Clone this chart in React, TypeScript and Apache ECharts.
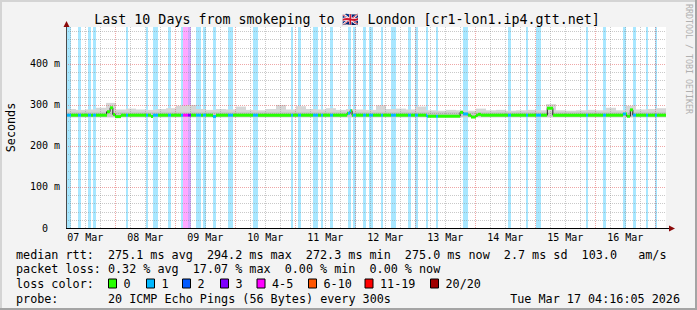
import React, { useEffect, useRef } from "react";
import * as echarts from "echarts";

// ---------- data (time in hours since 07 Mar 00:00) ----------
const START_H = 4 + 16 / 60 + 5 / 3600; // 07 Mar 04:16:05
const SPAN_H = 240; // last 10 days
const END_H = START_H + SPAN_H;
const Y_MAX = 490; // ms

const dayLabels = ["07 Mar", "08 Mar", "09 Mar", "10 Mar", "11 Mar", "12 Mar", "13 Mar", "14 Mar", "15 Mar", "16 Mar"];
const yTickValues = [0, 100, 200, 300, 400];

const lossLabels = ["0", "1", "2", "3", "4-5", "6-10", "11-19", "20/20"];
const lossColors = ["#26ff00", "#00b8ff", "#0059ff", "#7e00ff", "#ff00ff", "#ff5500", "#ff0000", "#a00000"];

// loss periods: start hour, end hour, loss class (index into lossLabels)
const bandStart = [4.27, 8.95, 12.95, 14.95, 28.27, 36.15, 39.07, 44.95, 50.27, 51.19, 53.19, 56.15, 59.19, 62.95, 68.95, 78.95, 94.27, 96.95, 102.95, 106.27, 109.87, 116.95, 118.95, 122.95, 125.47, 130.27, 134.27, 140.95, 143.87, 148.15, 152.15, 162.95, 180.95, 188.15, 192.27, 212.27, 218.95, 226.95, 230.95, 236.27, 239.87];
const bandEnd = [6.07, 10.27, 14.27, 16.27, 29.19, 37.19, 41.19, 46.27, 51.19, 53.19, 54.15, 58.15, 60.15, 64.27, 71.19, 80.95, 95.19, 98.15, 104.95, 107.19, 110.95, 118.27, 120.15, 124.27, 126.87, 131.19, 136.27, 142.27, 144.95, 149.19, 153.19, 164.95, 182.27, 189.07, 194.27, 213.19, 220.27, 228.27, 232.27, 237.07, 240.55];
const bandLoss = [1, 1, 1, 1, 1, 1, 1, 1, 1, 4, 3, 1, 1, 1, 1, 1, 1, 1, 1, 1, 1, 1, 1, 1, 1, 1, 1, 1, 1, 1, 1, 1, 1, 1, 1, 1, 1, 1, 1, 1, 1];

// median rtt (step changes)
const medianHours = [4.27, 20.5, 21.9, 23.0, 24.0, 26.2, 38.3, 39.0, 63.0, 64.3, 116.7, 117.9, 118.7, 148.5, 161.9, 163.2, 165.0, 166.3, 168.3, 169.0, 170.3, 196.8, 199.0, 227.1, 228.5, 230.0, 231.0];
const medianMs = [275, 283.5, 293, 276.5, 271.5, 275, 272, 275, 272, 275, 279.5, 286, 275, 272.5, 282, 278, 275, 270.5, 275, 277, 275, 292, 275, 278, 272.5, 288, 275];

// smoke (max ping) per 4-hour block
const SMOKE_BLOCK_H = 4;
const SMOKE_BASE = 270;
const SMOKE_INNER = 283;
const smokeTop = [290, 288, 289, 293, 305, 289, 291, 289, 288, 290, 292, 298, 300, 290, 288, 290, 289, 296, 288, 287, 290, 300, 289, 297, 290, 289, 292, 288, 290, 289, 288, 299, 290, 291, 289, 296, 287, 286, 288, 287, 286, 291, 287, 288, 286, 287, 288, 287, 302, 287, 286, 287, 288, 287, 293, 287, 298, 289, 290, 292];

// legend texts
const titleText = "Last 10 Days from smokeping to 🇬🇧 London [cr1-lon1.ip4.gtt.net]";
const rttLabel = "median rtt:";
const rttStats = ["275.1 ms avg", "294.2 ms max", "272.3 ms min", "275.0 ms now", "2.7 ms sd", "103.0", "am/s"];
const plLabel = "packet loss:";
const plStats = ["0.32 % avg", "17.07 % max", "0.00 % min", "0.00 % now"];
const lcLabel = "loss color:";
const probeLabel = "probe:";
const probeText = "20 ICMP Echo Pings (56 Bytes) every 300s";
const dateText = "Tue Mar 17 04:16:05 2026";
const yName = "Seconds";
const vendorText = "RRDTOOL / TOBI OETIKER";

// ---------- layout / style ----------
const FONT = '"DejaVu Sans Mono", monospace';
const LEG_FONT = `11.75px ${FONT}`;
const COL_W = 7.07;
const LEG_X = 16;
const rowY = [254.5, 269, 283.5, 298.5];
const rttCols = [13, 27, 41, 55, 69, 80, 88];
const plCols = [13, 25, 38, 50];
const lossBoxX = [108, 146, 182, 220, 256.5, 308, 364.5, 430];
const GRID = { left: 66, top: 27, width: 600, height: 201 };
const MINOR = "rgba(135,135,135,0.45)";
const MAJOR = "rgba(220,60,60,0.45)";

function alphaColor(hex: string, a: number) {
  const r = parseInt(hex.slice(1, 3), 16), g = parseInt(hex.slice(3, 5), 16), b = parseInt(hex.slice(5, 7), 16);
  return `rgba(${r},${g},${b},${a})`;
}

function lossAt(h: number) {
  for (let i = 0; i < bandStart.length; i++) if (h >= bandStart[i] && h < bandEnd[i]) return bandLoss[i];
  return 0;
}

function buildOption() {
  const snap = (v: number) => Math.round(v) + 0.5;

  const vGrid: number[][] = [];
  for (let h = 6; h < END_H; h += 6) if (h > START_H) vGrid.push([h, h % 24 === 0 ? 1 : 0]);
  const hGrid: number[][] = [];
  for (let v = 20; v < Y_MAX; v += 20) hGrid.push([v, v % 100 === 0 ? 1 : 0]);

  const bandItems = bandStart.map((s, i) => [s, bandEnd[i], bandLoss[i]]);
  const smokeItems = smokeTop.map((t, i) => [START_H + i * SMOKE_BLOCK_H, START_H + (i + 1) * SMOKE_BLOCK_H, t]);

  const medSegs: number[][] = [];
  for (let i = 0; i < medianHours.length; i++) {
    const h0 = medianHours[i];
    const h1 = i + 1 < medianHours.length ? medianHours[i + 1] : END_H;
    const cuts = [h0, h1];
    bandStart.forEach((s, j) => {
      if (s > h0 && s < h1) cuts.push(s);
      if (bandEnd[j] > h0 && bandEnd[j] < h1) cuts.push(bandEnd[j]);
    });
    cuts.sort((a, b) => a - b);
    for (let k = 0; k + 1 < cuts.length; k++) {
      if (cuts[k + 1] - cuts[k] <= 0) continue;
      medSegs.push([cuts[k], cuts[k + 1], medianMs[i], lossAt((cuts[k] + cuts[k + 1]) / 2)]);
    }
  }
  const medLine = medianHours.map((h, i) => [h, medianMs[i]]);
  medLine.push([END_H, medianMs[medianMs.length - 1]]);

  const txt = (text: string, x: number, y: number, extra: any = {}) => ({
    type: "text",
    z: 100,
    style: {
      text, x, y, font: LEG_FONT, fill: "#000",
      align: "left", textAlign: "left", verticalAlign: "middle", textVerticalAlign: "middle",
      ...extra,
    },
  });

  const graphics: any[] = [];
  // frame
  graphics.push({ type: "rect", z: 100, shape: { x: 0, y: 0, width: 697, height: 2 }, style: { fill: "#d4d4d4" } });
  graphics.push({ type: "rect", z: 100, shape: { x: 0, y: 0, width: 2, height: 310 }, style: { fill: "#d4d4d4" } });
  graphics.push({ type: "rect", z: 100, shape: { x: 0, y: 308, width: 697, height: 2 }, style: { fill: "#a4a4a4" } });
  graphics.push({ type: "rect", z: 100, shape: { x: 695, y: 0, width: 2, height: 310 }, style: { fill: "#a4a4a4" } });
  // axes
  graphics.push({ type: "line", z: 100, shape: { x1: 66.5, y1: 228, x2: 66.5, y2: 26 }, style: { stroke: "#4a4a4a", lineWidth: 1 } });
  graphics.push({ type: "line", z: 100, shape: { x1: 66, y1: 228.5, x2: 670, y2: 228.5 }, style: { stroke: "#000", lineWidth: 1 } });
  graphics.push({ type: "polygon", z: 101, shape: { points: [[63.5, 27], [69.5, 27], [66.5, 21]] }, style: { fill: "#8b0a0a" } });
  graphics.push({ type: "polygon", z: 101, shape: { points: [[669, 225.5], [669, 231.5], [675, 228.5]] }, style: { fill: "#8b0a0a" } });
  // title
  graphics.push(txt(titleText, 347, 19, { font: `13.3px ${FONT}`, align: "center", textAlign: "center" }));
  // y name
  graphics.push({
    type: "text", z: 100, x: 11, y: 127.5, rotation: Math.PI / 2,
    style: { text: yName, x: 0, y: 0, font: LEG_FONT, fill: "#000", align: "center", textAlign: "center", verticalAlign: "middle", textVerticalAlign: "middle" },
  });
  // vendor text
  graphics.push({
    type: "text", z: 100, x: 689, y: 59, rotation: -Math.PI / 2,
    style: { text: vendorText, x: 0, y: 0, font: `8.3px ${FONT}`, fill: "#b0b0b0", align: "center", textAlign: "center", verticalAlign: "middle", textVerticalAlign: "middle" },
  });
  // legend rows
  graphics.push(txt(rttLabel, LEG_X, rowY[0]));
  rttStats.forEach((s, i) => graphics.push(txt(s, LEG_X + rttCols[i] * COL_W, rowY[0])));
  graphics.push(txt(plLabel, LEG_X, rowY[1]));
  plStats.forEach((s, i) => graphics.push(txt(s, LEG_X + plCols[i] * COL_W, rowY[1])));
  graphics.push(txt(lcLabel, LEG_X, rowY[2]));
  lossLabels.forEach((l, i) => {
    graphics.push({
      type: "rect", z: 100,
      shape: { x: lossBoxX[i] + 0.5, y: rowY[2] - 4.5, width: 8, height: 9 },
      style: { fill: lossColors[i], stroke: "#000", lineWidth: 1 },
    });
    graphics.push(txt(l, lossBoxX[i] + 15.5, rowY[2]));
  });
  graphics.push(txt(probeLabel, LEG_X, rowY[3]));
  graphics.push(txt(probeText, LEG_X + 13 * COL_W, rowY[3]));
  graphics.push(txt(dateText, 680, rowY[3], { align: "right", textAlign: "right" }));

  return {
    animation: false,
    backgroundColor: "#f3f3f3",
    grid: { ...GRID, show: true, backgroundColor: "#ffffff", borderWidth: 0, containLabel: false },
    xAxis: {
      type: "value", min: START_H, max: END_H,
      axisLine: { show: false }, axisTick: { show: false }, splitLine: { show: false },
      axisLabel: {
        customValues: dayLabels.map((_, i) => 12 + 24 * i),
        formatter: (v: number) => dayLabels[Math.round((v - 12) / 24)] ?? "",
        fontFamily: FONT, fontSize: 10, color: "#000", margin: 4,
      },
    },
    yAxis: {
      type: "value", min: 0, max: Y_MAX,
      axisLine: { show: false }, axisTick: { show: false }, splitLine: { show: false },
      axisLabel: {
        customValues: yTickValues,
        formatter: (v: number) => (v === 0 ? "{z|0}" : `${v} m`),
        fontFamily: FONT, fontSize: 10, color: "#000", margin: 6,
        rich: { z: { fontFamily: FONT, fontSize: 10, color: "#000", padding: [0, 12, 0, 0] } },
      },
    },
    graphic: { elements: graphics },
    series: [
      {
        type: "custom", z: 1, silent: true, clip: true,
        encode: { x: [0, 1], y: 2 },
        data: bandItems,
        renderItem: (_p: any, api: any) => {
          const a = api.coord([api.value(0), 0]);
          const b = api.coord([api.value(1), Y_MAX]);
          const x0 = Math.round(a[0]), x1 = Math.round(b[0]);
          return {
            type: "rect",
            shape: { x: x0, y: b[1], width: Math.max(1, x1 - x0), height: a[1] - b[1] },
            style: { fill: alphaColor(lossColors[api.value(2)], 0.34) },
          };
        },
      },
      {
        type: "custom", z: 2, silent: true, clip: true,
        encode: { x: [0, 1], y: 2 },
        data: smokeItems,
        renderItem: (_p: any, api: any) => {
          const top = api.value(2);
          const a = api.coord([api.value(0), SMOKE_BASE]);
          const b = api.coord([api.value(1), top]);
          const c = api.coord([api.value(1), Math.min(top, SMOKE_INNER)]);
          const x0 = Math.round(a[0]), x1 = Math.round(b[0]);
          return {
            type: "group",
            children: [
              { type: "rect", shape: { x: x0, y: b[1], width: x1 - x0, height: a[1] - b[1] }, style: { fill: "#d6d6d6" } },
              { type: "rect", shape: { x: x0, y: c[1], width: x1 - x0, height: a[1] - c[1] }, style: { fill: "#c8c8c8" } },
            ],
          };
        },
      },
      {
        type: "custom", z: 3, silent: true, clip: false,
        encode: { x: 0, y: 1 },
        data: vGrid,
        renderItem: (_p: any, api: any) => {
          const h = api.value(0);
          const top = api.coord([h, Y_MAX]);
          const bot = api.coord([h, 0]);
          const x = snap(bot[0]);
          return {
            type: "line",
            shape: { x1: x, y1: top[1], x2: x, y2: bot[1] },
            style: { stroke: api.value(1) ? MAJOR : MINOR, lineWidth: 1, lineDash: [1, 1] },
          };
        },
      },
      {
        type: "custom", z: 3, silent: true, clip: false,
        encode: { x: 1, y: 0 },
        data: hGrid,
        renderItem: (_p: any, api: any) => {
          const v = api.value(0);
          const l = api.coord([START_H, v]);
          const r = api.coord([END_H, v]);
          const y = snap(l[1]);
          return {
            type: "line",
            shape: { x1: l[0], y1: y, x2: r[0], y2: y },
            style: { stroke: api.value(1) ? MAJOR : MINOR, lineWidth: 1, lineDash: [1, 1] },
          };
        },
      },
      {
        type: "line", z: 4, silent: true, step: "end", symbol: "none",
        data: medLine,
        lineStyle: { color: "#202020", width: 1 },
      },
      {
        type: "custom", z: 5, silent: true, clip: true,
        encode: { x: [0, 1], y: 2 },
        data: medSegs,
        renderItem: (_p: any, api: any) => {
          const a = api.coord([api.value(0), api.value(2)]);
          const b = api.coord([api.value(1), api.value(2)]);
          const x0 = Math.round(a[0]), x1 = Math.round(b[0]);
          return {
            type: "rect",
            shape: { x: x0, y: a[1] - 1.5, width: Math.max(0, x1 - x0), height: 3 },
            style: { fill: lossColors[api.value(3)] },
          };
        },
      },
    ],
  };
}

export default function App() {
  const ref = useRef<HTMLDivElement>(null);
  useEffect(() => {
    if (!ref.current) return;
    const chart = echarts.init(ref.current, null, { renderer: "svg" });
    chart.setOption(buildOption() as any);
    return () => chart.dispose();
  }, []);
  return <div ref={ref} style={{ position: "absolute", left: 0, top: 0, width: 697, height: 310 }} />;
}
